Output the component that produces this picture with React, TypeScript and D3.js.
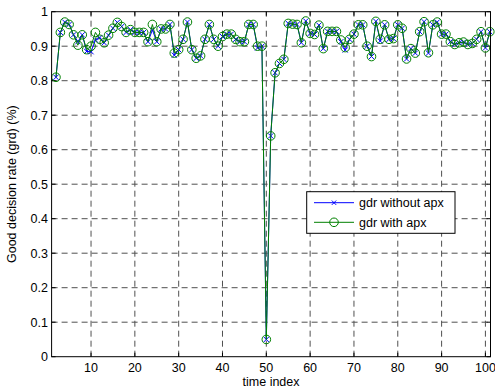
import React from "react";
import * as d3 from "d3";

const timeIndex = [
  2, 3, 4, 5, 6, 7, 8, 9, 10, 11, 12, 13, 14, 15, 16, 17, 18, 19, 20, 21,
  22, 23, 24, 25, 26, 27, 28, 29, 30, 31, 32, 33, 34, 35, 36, 37, 38, 39, 40, 41,
  42, 43, 44, 45, 46, 47, 48, 49, 50, 51, 52, 53, 54, 55, 56, 57, 58, 59, 60, 61,
  62, 63, 64, 65, 66, 67, 68, 69, 70, 71, 72, 73, 74, 75, 76, 77, 78, 79, 80, 81,
  82, 83, 84, 85, 86, 87, 88, 89, 90, 91, 92, 93, 94, 95, 96, 97, 98, 99, 100, 101,
];

const gdrWithApx = [
  0.81, 0.94, 0.97, 0.963, 0.933, 0.903, 0.933, 0.89, 0.9, 0.94,
  0.92, 0.91, 0.932, 0.952, 0.969, 0.957, 0.94, 0.948, 0.94, 0.94,
  0.94, 0.913, 0.963, 0.913, 0.95, 0.95, 0.963, 0.88, 0.89, 0.92,
  0.97, 0.89, 0.865, 0.872, 0.92, 0.963, 0.92, 0.9, 0.928, 0.935,
  0.935, 0.92, 0.913, 0.913, 0.963, 0.963, 0.9, 0.9, 0.05, 0.64,
  0.823, 0.85, 0.862, 0.966, 0.964, 0.963, 0.91, 0.973, 0.937, 0.934,
  0.961, 0.893, 0.943, 0.943, 0.943, 0.918, 0.896, 0.92, 0.935, 0.962,
  0.962, 0.9, 0.87, 0.972, 0.92, 0.962, 0.92, 0.922, 0.962, 0.952,
  0.863, 0.893, 0.88, 0.942, 0.971, 0.881, 0.962, 0.97, 0.935, 0.935,
  0.913, 0.905, 0.91, 0.912, 0.905, 0.908, 0.92, 0.942, 0.895, 0.942,
];

const gdrWithoutApx = [
  0.81, 0.94, 0.97, 0.963, 0.933, 0.913, 0.933, 0.885, 0.884, 0.918,
  0.925, 0.91, 0.932, 0.952, 0.969, 0.957, 0.94, 0.948, 0.94, 0.94,
  0.94, 0.913, 0.947, 0.913, 0.95, 0.95, 0.963, 0.874, 0.89, 0.92,
  0.97, 0.89, 0.865, 0.872, 0.92, 0.963, 0.92, 0.9, 0.928, 0.935,
  0.935, 0.92, 0.913, 0.913, 0.963, 0.963, 0.895, 0.9, 0.05, 0.64,
  0.823, 0.85, 0.862, 0.966, 0.964, 0.963, 0.91, 0.973, 0.937, 0.934,
  0.961, 0.893, 0.943, 0.943, 0.943, 0.913, 0.889, 0.92, 0.935, 0.962,
  0.962, 0.9, 0.87, 0.972, 0.915, 0.962, 0.92, 0.922, 0.962, 0.952,
  0.863, 0.893, 0.88, 0.942, 0.971, 0.88, 0.962, 0.97, 0.935, 0.935,
  0.913, 0.905, 0.91, 0.912, 0.905, 0.908, 0.92, 0.942, 0.895, 0.942,
];

const xTicks = [10, 20, 30, 40, 50, 60, 70, 80, 90, 100];
const yTicks = [0, 0.1, 0.2, 0.3, 0.4, 0.5, 0.6, 0.7, 0.8, 0.9, 1];
const seriesNames = ["gdr without apx", "gdr with apx"];

const W = 495;
const H = 392;
const L = 51.6;
const R = 489.8;
const BOX_R = 490.5;
const T = 11.7;
const B = 356.7;
const FONT = "'Liberation Sans', Arial, Helvetica, sans-serif";
const BLUE = "#0000ff";
const GREEN = "#008000";

function Cross({ x, y, s = 2.6, color }: { x: number; y: number; s?: number; color: string }) {
  return (
    <g stroke={color} strokeWidth={1}>
      <line x1={x - s} y1={y - s} x2={x + s} y2={y + s} />
      <line x1={x - s} y1={y + s} x2={x + s} y2={y - s} />
    </g>
  );
}

export default function App() {
  const x = d3.scaleLinear().domain([1, 101]).range([L, R]);
  const y = d3.scaleLinear().domain([0, 1]).range([B, T]);
  const line = d3
    .line<number>()
    .x((_, i) => x(timeIndex[i]))
    .y((d) => y(d));
  const tickLen = 4;

  const legX = 306.7;
  const legY = 191.7;
  const legW = 148.3;
  const legH = 41.6;
  const row1 = 202.7;
  const row2 = 222.3;

  return (
    <svg
      width={W}
      height={H}
      style={{ position: "absolute", left: 0, top: 0, background: "#fff" }}
      fontFamily={FONT}
    >
      <rect x={0} y={0} width={W} height={H} fill="#fff" />
      {/* grid */}
      <g stroke="#333" strokeWidth={1} strokeDasharray="6,4" opacity={0.85}>
        {xTicks.map((t) => (
          <line key={"gx" + t} x1={x(t)} x2={x(t)} y1={B} y2={T} />
        ))}
        {yTicks.slice(1, -1).map((t) => (
          <line key={"gy" + t} x1={L} x2={BOX_R} y1={y(t)} y2={y(t)} />
        ))}
      </g>
      {/* ticks */}
      <g stroke="#000" strokeWidth={1}>
        {xTicks.map((t) => (
          <g key={"tx" + t}>
            <line x1={x(t)} x2={x(t)} y1={B} y2={B - tickLen} />
            <line x1={x(t)} x2={x(t)} y1={T} y2={T + tickLen} />
          </g>
        ))}
        {yTicks.map((t) => (
          <g key={"ty" + t}>
            <line x1={L} x2={L + tickLen} y1={y(t)} y2={y(t)} />
            <line x1={BOX_R} x2={BOX_R - tickLen} y1={y(t)} y2={y(t)} />
          </g>
        ))}
      </g>
      {/* series */}
      <path d={line(gdrWithoutApx) || ""} fill="none" stroke={BLUE} strokeWidth={1} />
      {gdrWithoutApx.map((v, i) => (
        <Cross key={"c" + i} x={x(timeIndex[i])} y={y(v)} color={BLUE} />
      ))}
      <path d={line(gdrWithApx) || ""} fill="none" stroke={GREEN} strokeWidth={1} />
      {gdrWithApx.map((v, i) => (
        <circle key={"o" + i} cx={x(timeIndex[i])} cy={y(v)} r={4.3} fill="none" stroke={GREEN} strokeWidth={1} />
      ))}
      {/* box */}
      <rect x={L} y={T} width={BOX_R - L} height={B - T} fill="none" stroke="#000" strokeWidth={1} />
      {/* tick labels */}
      <g fontSize={12.5} fill="#000">
        {xTicks.map((t) => (
          <text key={"lx" + t} x={x(t)} y={372} textAnchor="middle">
            {t}
          </text>
        ))}
        {yTicks.map((t) => (
          <text key={"ly" + t} x={48} y={y(t) + 4.5} textAnchor="end">
            {t}
          </text>
        ))}
      </g>
      <text x={(L + BOX_R) / 2} y={386} textAnchor="middle" fontSize={12.5}>
        time index
      </text>
      <text
        transform={`translate(16, ${(T + B) / 2}) rotate(-90)`}
        textAnchor="middle"
        fontSize={12.5}
      >
        Good decision rate (grd) (%)
      </text>
      {/* legend */}
      <rect x={legX} y={legY} width={legW} height={legH} fill="#fff" stroke="#000" strokeWidth={1} />
      <line x1={314} x2={354} y1={row1} y2={row1} stroke={BLUE} strokeWidth={1} />
      <Cross x={334} y={row1} s={2.2} color={BLUE} />
      <line x1={314} x2={354} y1={row2} y2={row2} stroke={GREEN} strokeWidth={1} />
      <circle cx={334} cy={row2} r={4.3} fill="none" stroke={GREEN} strokeWidth={1} />
      <text x={359} y={row1 + 4.5} fontSize={12.5}>
        {seriesNames[0]}
      </text>
      <text x={359} y={row2 + 4.5} fontSize={12.5}>
        {seriesNames[1]}
      </text>
    </svg>
  );
}
